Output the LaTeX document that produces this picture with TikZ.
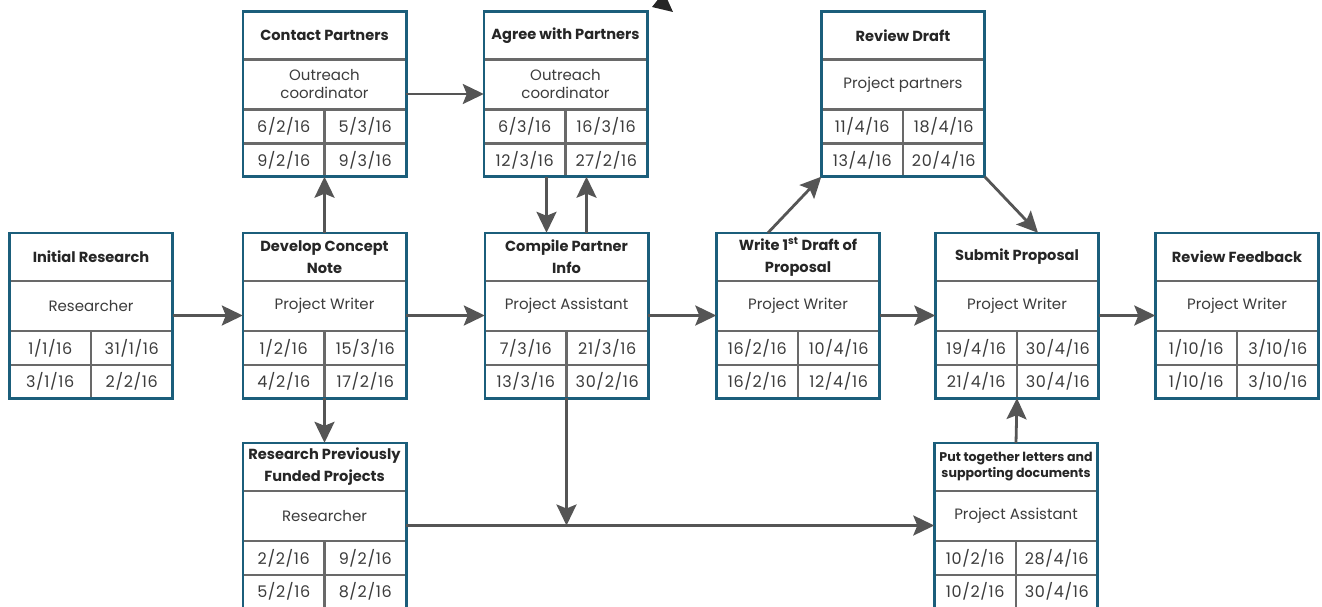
\documentclass[tikz,border=0pt]{standalone}
\usepackage{fontspec}
\setmainfont{Poppins}
\usetikzlibrary{arrows.meta}

\definecolor{boxteal}{RGB}{27,94,123}
\definecolor{cellgray}{RGB}{105,105,105}
\definecolor{arrowgray}{RGB}{85,85,85}
\definecolor{textgray}{RGB}{60,60,60}

\tikzset{
  taskbox/.style={fill=white, minimum width=163pt, minimum height=165pt, inner sep=0pt},
  cell/.style={draw=cellgray, line width=2.4pt},
  frame/.style={draw=boxteal, line width=2.6pt},
  tasktitle/.style={font=\bfseries\fontsize{14.6}{22}\selectfont, text=black!85, align=center},
  taskrole/.style={font=\fontsize{15}{18}\selectfont, text=textgray, align=center},
  taskdate/.style={font=\fontsize{16}{18}\selectfont\addfontfeatures{LetterSpace=4}, text=textgray},
  flow/.style={draw=arrowgray, line width=2.8pt, -{Stealth[length=21pt,width=20pt,inset=4pt]}},
}

% activity box: name, x, y, title, role, start/finish dates
\newcommand{\activity}[9]{%
  \node[taskbox] (#1) at (#2,#3) {};
  \draw[cell] ([yshift=34.5pt]#1.west) -- ([yshift=34.5pt]#1.east);
  \draw[cell] ([yshift=-15.5pt]#1.west) -- ([yshift=-15.5pt]#1.east);
  \draw[cell] ([yshift=-49.5pt]#1.west) -- ([yshift=-49.5pt]#1.east);
  \draw[cell] ([yshift=-15.5pt]#1.center) -- (#1.south);
  \draw[frame] (#1.south west) rectangle (#1.north east);
  \node[tasktitle] (#1-title) at ([yshift=58.5pt]#1.center) {#4};
  \node[taskrole] (#1-role) at ([yshift=9.5pt]#1.center) {#5};
  \node[taskdate] (#1-es) at ([xshift=-40.75pt,yshift=-32.5pt]#1.center) {#6};
  \node[taskdate] (#1-ef) at ([xshift=40.75pt,yshift=-32.5pt]#1.center) {#7};
  \node[taskdate] (#1-ls) at ([xshift=-40.75pt,yshift=-66pt]#1.center) {#8};
  \node[taskdate] (#1-lf) at ([xshift=40.75pt,yshift=-66pt]#1.center) {#9};
}

\begin{document}
\begin{tikzpicture}[x=1pt, y=-1pt]
  \useasboundingbox (0,0) rectangle (1322,607);

  % activities
  \activity{init}{91}{315.5}{Initial Research}{Researcher}{1/1/16}{31/1/16}{3/1/16}{2/2/16}
  \activity{concept}{324.5}{315.5}{Develop Concept\\Note}{Project Writer}{1/2/16}{15/3/16}{4/2/16}{17/2/16}
  \activity{contact}{324.5}{94}{Contact Partners}{Outreach\\coordinator}{6/2/16}{5/3/16}{9/2/16}{9/3/16}
  \activity{agree}{565.5}{94}{Agree with Partners}{Outreach\\coordinator}{6/3/16}{16/3/16}{12/3/16}{27/2/16}
  \activity{compile}{566.5}{315.5}{Compile Partner\\Info}{Project Assistant}{7/3/16}{21/3/16}{13/3/16}{30/2/16}
  \activity{draft}{798}{315.5}{Write 1\textsuperscript{st} Draft of\\Proposal}{Project Writer}{16/2/16}{10/4/16}{16/2/16}{12/4/16}
  \activity{review}{903}{94}{Review Draft}{Project partners}{11/4/16}{18/4/16}{13/4/16}{20/4/16}
  \activity{submit}{1017}{315.5}{Submit Proposal}{Project Writer}{19/4/16}{30/4/16}{21/4/16}{30/4/16}
  \activity{feedback}{1237}{315.5}{Review Feedback}{Project Writer}{1/10/16}{3/10/16}{1/10/16}{3/10/16}
  \activity{prior}{324.5}{525.5}{Research Previously\\Funded Projects}{Researcher}{2/2/16}{9/2/16}{5/2/16}{8/2/16}
  \activity{letters}{1016}{525.5}{\fontsize{12.6}{16}\selectfont Put together letters and\\[-6pt]\fontsize{12.6}{16}\selectfont supporting documents}{Project Assistant}{10/2/16}{28/4/16}{10/2/16}{30/4/16}

  % dependencies
  \draw[flow] (init.east) -- (concept.west);
  \draw[flow] (concept.east) -- (compile.west);
  \draw[flow] (compile.east) -- (draft.west);
  \draw[flow] (draft.east) -- (submit.west);
  \draw[flow] (submit.east) -- (feedback.west);
  \draw[flow] (concept.north) -- (contact.south);
  \draw[flow] (concept.south) -- (prior.north);
  \draw[flow] (contact.east) -- (agree.west);
  \draw[flow] ([xshift=-19pt]agree.south) -- ([xshift=-19pt]agree.south |- compile.north);
  \draw[flow] ([xshift=20pt]compile.north) -- ([xshift=20pt]compile.north |- agree.south);
  \draw[flow] ([xshift=-30pt]draft.north) -- (review.south west);
  \draw[flow] (review.south east) -- ([xshift=21pt]submit.north);
  \draw[flow] (prior.east) -- (letters.west);
  \draw[flow] (compile.south) -- (compile.south |- prior.east);
  \draw[flow] (letters.north) -- (submit.south);

  % arrow tip cut by the top edge
  \fill[black!85] (652,7) -- (673,12) -- (664,-8) -- cycle;
\end{tikzpicture}
\end{document}
